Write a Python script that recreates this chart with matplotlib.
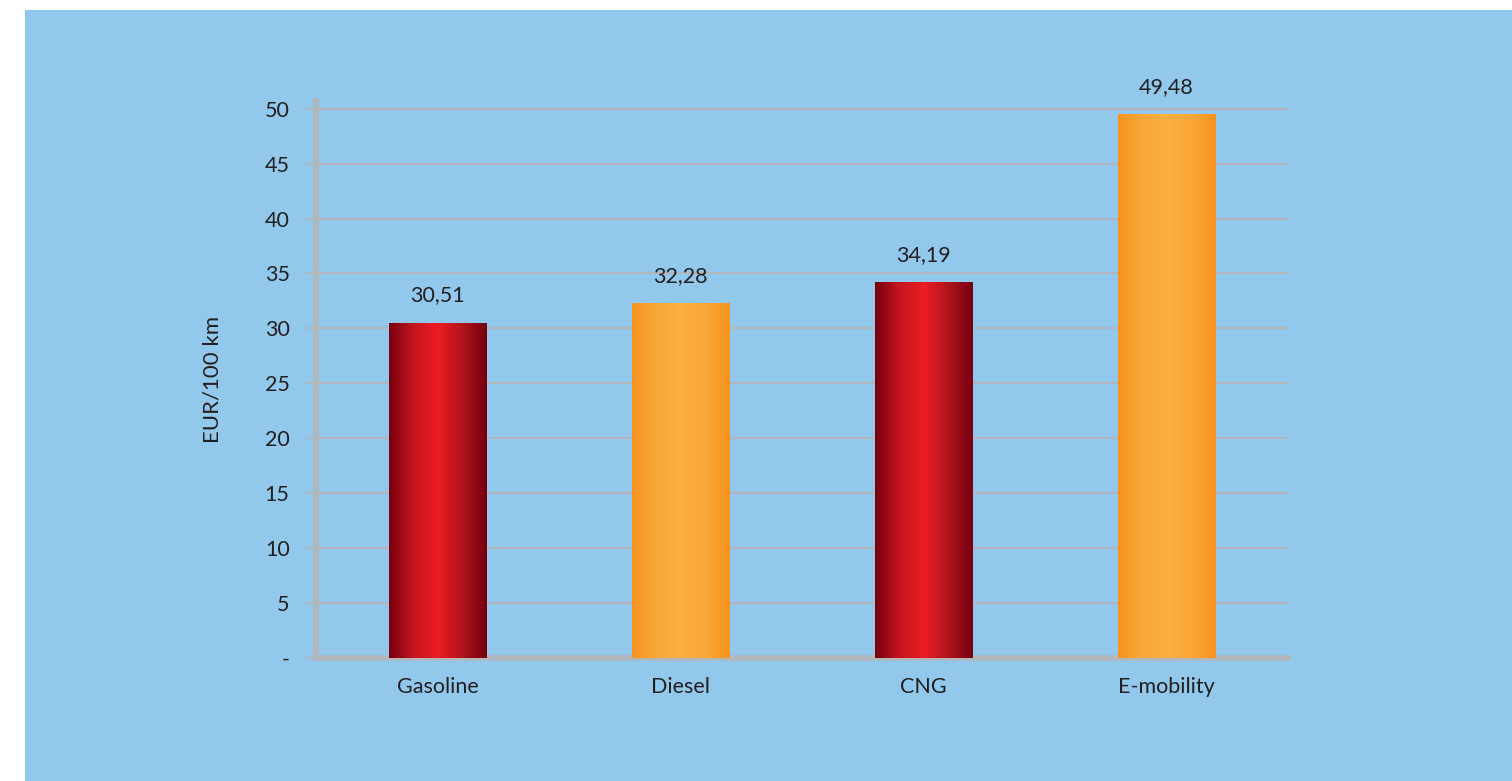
import numpy as np
import matplotlib.pyplot as plt
from matplotlib.patches import Rectangle
from matplotlib.colors import LinearSegmentedColormap

plt.rcParams['font.family'] = ['Lato', 'DejaVu Sans']

categories = ['Gasoline', 'Diesel', 'CNG', 'E-mobility']
values = [30.51, 32.28, 34.19, 49.48]
value_labels = ['30,51', '32,28', '34,19', '49,48']
yticks = [0, 5, 10, 15, 20, 25, 30, 35, 40, 45, 50]
ytick_labels = ['-', '5', '10', '15', '20', '25', '30', '35', '40', '45', '50']

blue = '#92C8EC'
grey = '#B3B6BA'
text_col = '#231F20'

red_cmap = LinearSegmentedColormap.from_list('red', ['#760010', '#C4161E', '#ED1C24', '#B0141C', '#760010'])
orange_cmap = LinearSegmentedColormap.from_list('orange', ['#F7931E', '#F9A83A', '#FBB040', '#F9A737', '#F7931E'])
cmaps = [red_cmap, orange_cmap, red_cmap, orange_cmap]

fig = plt.figure(figsize=(15.12, 7.81), dpi=100, facecolor='white')
bg = Rectangle((25 / 1512, 0), 1, 1 - 10 / 781, transform=fig.transFigure,
               facecolor=blue, edgecolor='none', zorder=-10)
fig.add_artist(bg)

ax = fig.add_axes([316 / 1512, 1 - 658 / 781, (1288 - 316) / 1512, (658 - 101) / 781])
ax.set_facecolor('none')

x = np.arange(len(categories))
bars = ax.bar(x, values, width=0.4, color='none', zorder=3)

# gradient fill inside each bar
grad = np.linspace(0, 1, 256).reshape(1, -1)
for bar, cmap in zip(bars, cmaps):
    x0 = bar.get_x()
    x1 = x0 + bar.get_width()
    im = ax.imshow(grad, cmap=cmap, aspect='auto', extent=(x0, x1, 0, bar.get_height()),
                   zorder=3, interpolation='bilinear')
    im.set_clip_path(bar)

for xi, v, lab in zip(x, values, value_labels):
    ax.text(xi, v + 1.6, lab, ha='center', va='bottom', fontsize=15.5, color=text_col)

ax.set_xlim(-0.5, 3.5)
ax.set_ylim(0, 50.7)
ax.set_xticks(x)
ax.set_xticklabels(categories, fontsize=15.5, color=text_col)
ax.set_yticks(yticks)
ax.set_yticklabels(ytick_labels, fontsize=15.5, color=text_col)
ax.tick_params(axis='x', length=0, pad=14)
ax.tick_params(axis='y', length=7, width=1.5, color=grey, pad=12)

ax.yaxis.grid(True, color=grey, linewidth=1.5, zorder=1)
ax.set_axisbelow(True)

for side in ['top', 'right']:
    ax.spines[side].set_visible(False)
for side in ['left', 'bottom']:
    ax.spines[side].set_color(grey)
    ax.spines[side].set_linewidth(4)

ax.set_ylabel('EUR/100 km', fontsize=16, color=text_col, labelpad=30)

fig.savefig('out.png', dpi=100, facecolor='white')
